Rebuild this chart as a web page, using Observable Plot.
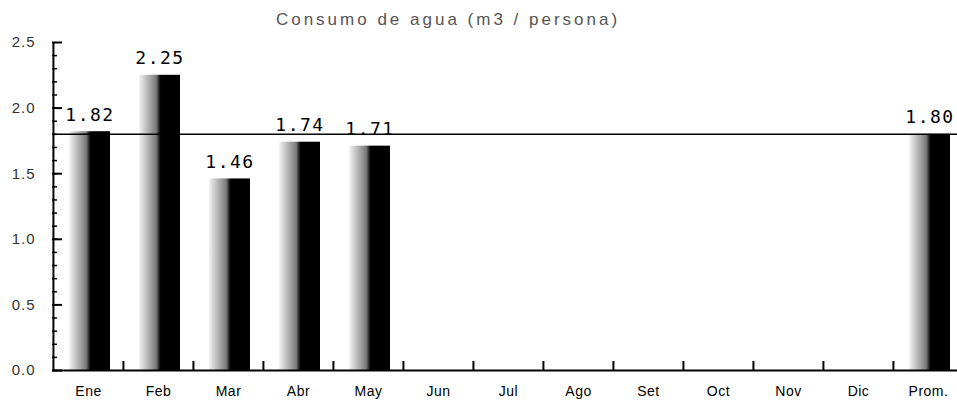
<!DOCTYPE html>
<html>
<head>
<meta charset="utf-8">
<script src="https://cdn.jsdelivr.net/npm/d3@7"></script>
<script src="https://cdn.jsdelivr.net/npm/@observablehq/plot@0.6"></script>
<style>
  html, body { margin: 0; padding: 0; background: #fff; }
  #chart svg { display: block; }
</style>
</head>
<body>
<div id="chart"></div>
<script>
const title = "Consumo de agua (m3 / persona)";
const months = ["Ene","Feb","Mar","Abr","May","Jun","Jul","Ago","Set","Oct","Nov","Dic","Prom."];
const values = [1.82, 2.25, 1.46, 1.74, 1.71, null, null, null, null, null, null, null, 1.80];
const average = 1.80;
const yTicks = [0, 0.5, 1.0, 1.5, 2.0, 2.5];
const yMinorTicks = d3.range(0, 25).map(i => i / 10);

const W = 957, H = 405;
const mL = 52, mT = 42, mB = 35;
const xRange = [52, 964];
const step = (xRange[1] - xRange[0]) / months.length;
const frameW = W - mL;
const frameH = H - mT - mB;

const data = months.map((m, i) => ({month: m, value: values[i]})).filter(d => d.value != null);

const defs = () => {
  const ns = "http://www.w3.org/2000/svg";
  const d = document.createElementNS(ns, "defs");
  const g = document.createElementNS(ns, "linearGradient");
  g.setAttribute("id", "barGrad");
  g.setAttribute("x1", "0"); g.setAttribute("x2", "1");
  g.setAttribute("y1", "0"); g.setAttribute("y2", "0");
  [[0, "#f4f4f4"], [0.15, "#c8c8c8"], [0.42, "#7a7a7a"], [0.5, "#1a1a1a"], [0.53, "#000"], [1, "#000"]]
    .forEach(([o, c]) => {
      const s = document.createElementNS(ns, "stop");
      s.setAttribute("offset", o);
      s.setAttribute("stop-color", c);
      g.appendChild(s);
    });
  d.appendChild(g);
  return d;
};

const chart = Plot.plot({
  width: W,
  height: H,
  marginLeft: mL,
  marginRight: 0,
  marginTop: mT,
  marginBottom: mB,
  style: {background: "#fff", overflow: "visible"},
  x: {domain: months, range: xRange, padding: 0, label: null},
  y: {domain: [0, 2.5], label: null},
  marks: [
    defs,
    Plot.barY(data, {x: "month", y: "value", fill: "url(#barGrad)", insetLeft: 16, insetRight: 13}),
    Plot.ruleY([average], {stroke: "#000", strokeWidth: 1.5}),
    Plot.ruleY([0], {stroke: "#000", strokeWidth: 2}),
    Plot.ruleX([months[0]], {dx: -step / 2, stroke: "#000", strokeWidth: 2}),
    Plot.tickY(yTicks, {y: d => d, insetRight: frameW - 10, stroke: "#000", strokeWidth: 2}),
    Plot.tickY(yMinorTicks, {y: d => d, insetRight: frameW - 5, stroke: "#000", strokeWidth: 1.5}),
    Plot.tickX(months.slice(1), {x: d => d, dx: -step / 2, insetTop: frameH - 9, stroke: "#000", strokeWidth: 2}),
    Plot.text(data, {x: "month", y: "value", text: d => d.value.toFixed(2), dx: 1.5, dy: -11, lineAnchor: "bottom",
      fontFamily: "DejaVu Sans Mono", fontSize: 18, fill: "#000"}),
    Plot.axisY({ticks: yTicks, tickSize: 0, tickPadding: 17, tickFormat: d3.format(".1f"),
      fontSize: 15, fontFamily: "Liberation Sans", fill: "#333"}),
    Plot.axisX({tickSize: 0, tickPadding: 16, fontSize: 14, fontFamily: "Liberation Sans", fill: "#000"}),
    Plot.text([title], {text: d => d, frameAnchor: "top", dx: -57, dy: -23, lineAnchor: "middle",
      fontSize: 17, fontFamily: "Liberation Sans", fill: "#555"})
  ]
});
document.getElementById("chart").appendChild(chart);
chart.querySelectorAll("[aria-label='y-axis tick label'] text").forEach(t => t.style.letterSpacing = "1px");
chart.querySelectorAll("[aria-label='x-axis tick label'] text").forEach(t => t.style.letterSpacing = "0.5px");
chart.querySelectorAll("[aria-label='text'] text").forEach(t => {
  if (t.textContent === title) t.style.letterSpacing = "3px";
  else t.style.letterSpacing = "1.5px";
});
</script>
</body>
</html>
